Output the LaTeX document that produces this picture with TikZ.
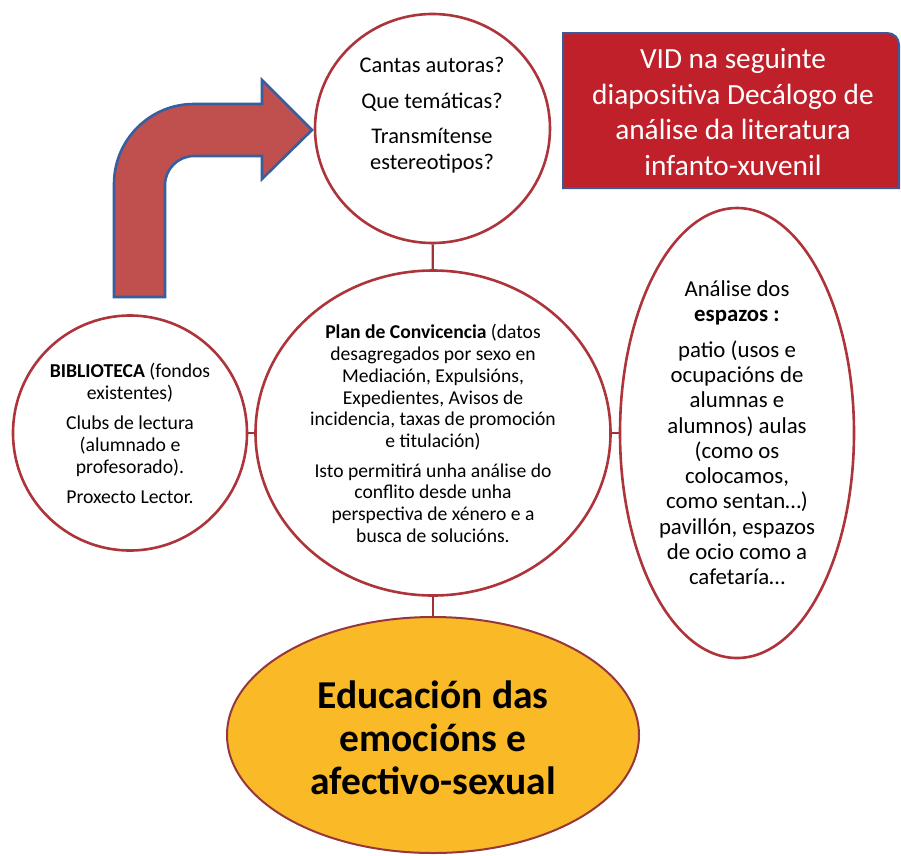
\documentclass[tikz,border=0pt]{standalone}
\usepackage{fontspec}
\setmainfont{Carlito}
\usetikzlibrary{shapes.geometric}
\definecolor{ringred}{RGB}{172,52,58}
\definecolor{linkred}{RGB}{160,50,55}
\definecolor{arrowfill}{RGB}{192,80,77}
\definecolor{arrowblue}{RGB}{55,95,160}
\definecolor{boxred}{RGB}{192,32,42}
\definecolor{boxblue}{RGB}{60,90,150}
\definecolor{gold}{RGB}{250,186,40}
\definecolor{goldedge}{RGB}{150,55,60}
\begin{document}
\begin{tikzpicture}[x=1pt,y=-1pt,
  ring/.style={ellipse, draw=ringred, line width=2.6pt, inner sep=0pt, fill=white},
  link/.style={draw=linkred, line width=2.4pt},
  txt/.style={anchor=north, align=center, inner sep=0pt, text=black}]
\useasboundingbox[fill=white] (0,0) rectangle (901,855);

% bent block arrow
\draw[fill=arrowfill, draw=arrowblue, line width=2.6pt, line join=miter]
  (114,297) -- (114,184) .. controls (114,139.8) and (149.8,104) .. (194,104)
  -- (262,104) -- (262,80) -- (312,130) -- (262,179) -- (262,156) -- (194,156)
  .. controls (178,156) and (165,169) .. (165,185) -- (165,297) -- cycle;

% red box with one rounded corner
\draw[fill=boxred, draw=boxblue, line width=2pt]
  (563,188) -- (563,33) -- (887,33) .. controls (894,33) and (899,38) .. (899,45)
  -- (899,188) -- cycle;
\node[txt, text=white, font=\fontsize{29.3}{35.5}\selectfont] (boxtext) at (733,42.4)
  {\rule{0pt}{0.9em}VID na seguinte\\ diapositiva Decálogo de\\ análise da literatura\\ infanto-xuvenil\rule[-0.3em]{0pt}{0pt}};

% shapes
\node[ring, minimum width=235pt, minimum height=229pt] (top) at (432.5,128.5) {};
\node[ring, minimum width=355pt, minimum height=325pt] (mid) at (433,433) {};
\node[ring, minimum width=234pt, minimum height=235pt] (bib) at (130,433) {};
\node[ring, minimum width=234pt, minimum height=450pt] (esp) at (737,433) {};
\node[ellipse, draw=goldedge, line width=2pt, fill=gold, inner sep=0pt,
      minimum width=412pt, minimum height=236pt] (edu) at (433,735) {};

% connectors
\draw[link] (top) -- (mid);
\draw[link] (bib) -- (mid);
\draw[link] (mid) -- (esp);
\draw[link] (mid) -- (edu);

% texts
\node[txt, font=\fontsize{22.4}{26}\selectfont] (toptext) at (432,52.5)
  {\rule{0pt}{0.9em}Cantas autoras?\\[10pt] Que temáticas?\\[9pt] Transmítense\\ estereotipos?\rule[-0.3em]{0pt}{0pt}};

\node[txt, font=\fontsize{19.6}{21.8}\selectfont] (midtext) at (433,320.8)
  {\rule{0pt}{0.9em}\textbf{Plan de Convicencia} (datos\\ desagregados por sexo en\\ Mediación, Expulsións,\\ Expedientes, Avisos de\\ incidencia, taxas de promoción\\ e titulación)\\[7.6pt]
   Isto permitirá unha análise do\\ conflito desde unha\\ perspectiva de xénero e a\\ busca de solucións.\rule[-0.3em]{0pt}{0pt}};

\node[txt, font=\fontsize{19.7}{22}\selectfont] (bibtext) at (130,359.2)
  {\rule{0pt}{0.9em}\textbf{BIBLIOTECA} (fondos\\ existentes)\\[8pt] Clubs de lectura\\ (alumnado e\\ profesorado).\\[8pt] Proxecto Lector.\rule[-0.3em]{0pt}{0pt}};

\node[txt, font=\fontsize{22.8}{25.3}\selectfont] (esptext) at (737,275.3)
  {\rule{0pt}{0.9em}Análise dos\\ \textbf{espazos :}\\[10.5pt] patio (usos e\\ ocupacións de\\ alumnas e\\ alumnos) aulas\\ (como os\\ colocamos,\\ como sentan…)\\ pavillón, espazos\\ de ocio como a\\ cafetaría…\rule[-0.3em]{0pt}{0pt}};

\node[txt, font=\fontsize{39.5}{43}\selectfont\bfseries] (edutext) at (433,672.8)
  {\rule{0pt}{0.9em}Educación das\\ emocións e\\ afectivo-sexual\rule[-0.3em]{0pt}{0pt}};
\end{tikzpicture}
\end{document}
